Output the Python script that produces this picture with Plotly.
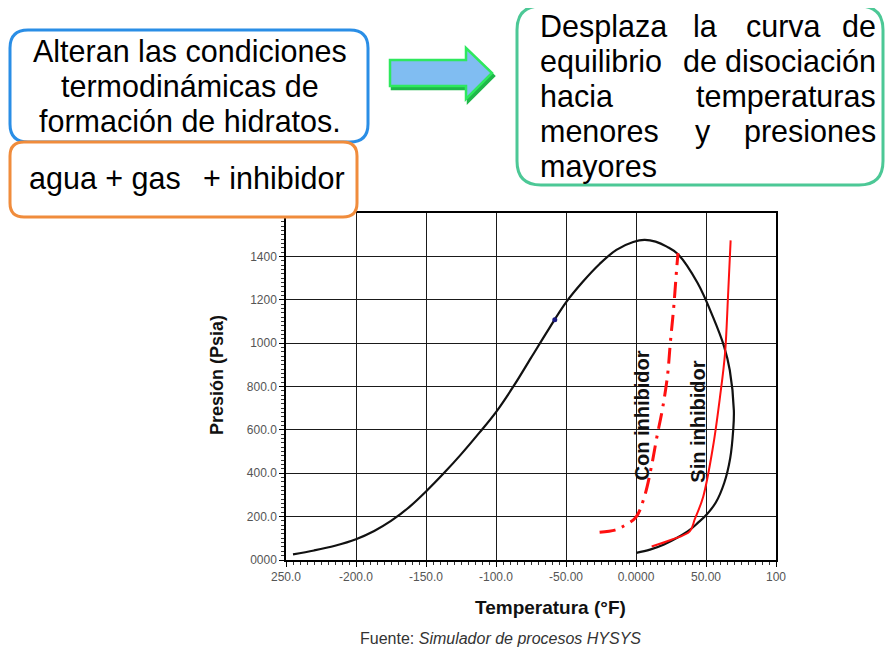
import plotly.graph_objects as go

# ---------------- data ----------------
env_T = [-245, -230, -215, -200, -187, -175, -162, -150, -137, -125, -112, -100, -87, -75, -62, -50,
         -38, -26, -14, -2, 6, 14, 22, 30, 44, 54.9, 63, 67, 69.9, 69.4,
         67.3, 63, 57, 50.5, 44, 38.6, 30, 20, 10, 0.2]
env_P = [26, 44, 66, 96, 134, 180, 244, 316, 402, 487, 586, 682, 806, 932, 1068, 1188,
         1283, 1365, 1430, 1466, 1476, 1468, 1445, 1410, 1277, 1122, 983, 875, 690, 597,
         470, 355, 265, 210, 170, 140, 105, 72, 48, 33]

sin_T = [11.2, 24.8, 38.4, 42, 48, 55, 60, 63.6, 65.7, 67.6]
sin_P = [62, 92, 132, 188, 292, 522, 752, 953, 1213, 1474]

con_T = [-26, -15, -10, 0, 6, 11, 15, 19, 22.5, 24.5, 27, 29, 30]
con_P = [128, 138, 152, 198, 292, 430, 570, 700, 850, 1000, 1170, 1340, 1415]

marker_T = [-58]
marker_P = [1108]

x_tickvals = [-250, -200, -150, -100, -50, 0, 50, 100]
x_ticktext = ["250.0", "-200.0", "-150.0", "-100.0", "-50.00", "0.0000", "50.00", "100"]
y_tickvals = [0, 200, 400, 600, 800, 1000, 1200, 1400]
y_ticktext = ["0000", "200.0", "400.0", "600.0", "800.0", "1000", "1200", "1400"]

# ---------------- layout helpers ----------------
OFF = 8  # page body margin
W, H = 878, 642
L, T = 286 - OFF, 213 - OFF
PW, PH = 490, 347
R = W - L - PW
B = H - T - PH


def px(x):
    return (x - OFF - L) / PW


def py(y):
    return (T + PH - (y - OFF)) / PH


def rrect(x0, y0, x1, y1, r):
    return (f"M {px(x0 + r)} {py(y0)} L {px(x1 - r)} {py(y0)} "
            f"Q {px(x1)} {py(y0)} {px(x1)} {py(y0 + r)} "
            f"L {px(x1)} {py(y1 - r)} Q {px(x1)} {py(y1)} {px(x1 - r)} {py(y1)} "
            f"L {px(x0 + r)} {py(y1)} Q {px(x0)} {py(y1)} {px(x0)} {py(y1 - r)} "
            f"L {px(x0)} {py(y0 + r)} Q {px(x0)} {py(y0)} {px(x0 + r)} {py(y0)} Z")


def arrow_path(dx=0, dy=0):
    p = [(390, 60), (466, 60), (466, 48), (492, 73), (466, 99), (466, 86), (390, 86)]
    return "M " + " L ".join(f"{px(a + dx)} {py(b + dy)}" for a, b in p) + " Z"


FONT = "Liberation Sans, Arial, sans-serif"

fig = go.Figure()

fig.add_trace(go.Scatter(x=env_T, y=env_P, mode="lines", line=dict(color="#111111", width=2.2, shape="spline"),
                         hoverinfo="skip", showlegend=False))
fig.add_trace(go.Scatter(x=sin_T, y=sin_P, mode="lines", line=dict(color="#ff1010", width=2, shape="spline"),
                         hoverinfo="skip", showlegend=False))
fig.add_trace(go.Scatter(x=con_T, y=con_P, mode="lines",
                         line=dict(color="#ff1010", width=3, dash="16px,7px,3px,7px", shape="spline"),
                         hoverinfo="skip", showlegend=False))
fig.add_trace(go.Scatter(x=marker_T, y=marker_P, mode="markers", marker=dict(color="#1a1a80", size=5),
                         hoverinfo="skip", showlegend=False))

shapes = [
    dict(type="path", xref="paper", yref="paper", path=rrect(10, 30, 368, 142, 18),
         line=dict(color="#2a8ee6", width=3), fillcolor="white", layer="above"),
    dict(type="path", xref="paper", yref="paper", path=rrect(10, 142, 357, 217, 14),
         line=dict(color="#f08c3c", width=3), fillcolor="white", layer="above"),
    dict(type="path", xref="paper", yref="paper", path=rrect(517, 6, 883, 185, 24),
         line=dict(color="#4cc896", width=3), fillcolor="white", layer="above"),
    dict(type="path", xref="paper", yref="paper", path=arrow_path(2, 3),
         line=dict(color="#1fb84a", width=2.5), fillcolor="#1fb84a", layer="above"),
    dict(type="path", xref="paper", yref="paper", path=arrow_path(),
         line=dict(color="#2ee85e", width=2.5), fillcolor="#80bdf2", layer="above"),
]

ann = []


def text(x, y, s, size, anchor="center", color="black", bold=False, angle=0):
    ann.append(dict(x=px(x), y=py(y), xref="paper", yref="paper", text=s, showarrow=False,
                    xanchor=anchor, yanchor="middle", textangle=angle,
                    font=dict(family=FONT, size=size, color=color,
                              weight="bold" if bold else "normal")))


BOX_FS = 30.5
# blue box
text(190, 51, "Alteran las condiciones", BOX_FS)
text(190, 86, "termodinámicas de", BOX_FS)
text(190, 121, "formación de hidratos.", BOX_FS)
# orange box
text(27, 178, "agua + gas", BOX_FS, anchor="left")
text(347, 178, "+ inhibidor", BOX_FS, anchor="right")
# green box (justified words)
green_lines = [
    (26, [("Desplaza", 538, "left"), ("la", 705, "center"), ("curva", 783, "center"), ("de", 878, "right")]),
    (61, [("equilibrio", 538, "left"), ("de", 700, "center"), ("disociación", 878, "right")]),
    (96, [("hacia", 538, "left"), ("temperaturas", 878, "right")]),
    (131, [("menores", 538, "left"), ("y", 703, "center"), ("presiones", 878, "right")]),
    (166, [("mayores", 538, "left")]),
]
for yy, words in green_lines:
    for w, xx, an in words:
        text(xx, yy, w, BOX_FS, anchor=an)

# curve labels
ann.append(dict(x=4.5, y=668, xref="x", yref="y", text="Con inhibidor", textangle=-90, showarrow=False,
                font=dict(family=FONT, size=20, color="#111111", weight="bold")))
ann.append(dict(x=44, y=636, xref="x", yref="y", text="Sin inhibidor", textangle=-90, showarrow=False,
                font=dict(family=FONT, size=20, color="#111111", weight="bold")))

# axis titles & caption
text(550, 607, "Temperatura (°F)", 19, bold=True, color="#111111")
text(217, 375, "Presión (Psia)", 18, bold=True, color="#111111", angle=-90)
text(500, 638, "Fuente: <i>Simulador de procesos HYSYS</i>", 16, color="#333333")

fig.update_layout(
    width=W, height=H, margin=dict(l=L, r=R, t=T, b=B),
    paper_bgcolor="white", plot_bgcolor="white",
    shapes=shapes, annotations=ann, showlegend=False,
    xaxis=dict(range=[-250, 100], tickvals=x_tickvals, ticktext=x_ticktext,
               showline=True, mirror=True, linecolor="black", linewidth=1.5,
               showgrid=True, gridcolor="#1a1a1a", gridwidth=1.3, zeroline=False,
               ticks="outside", ticklen=5, tickcolor="black",
               tickfont=dict(family=FONT, size=12, color="#555555"),
               minor=dict(dtick=5, ticks="outside", ticklen=3, tickcolor="#333333", showgrid=False)),
    yaxis=dict(range=[0, 1600], tickvals=y_tickvals, ticktext=y_ticktext,
               showline=True, mirror=True, linecolor="black", linewidth=1.5,
               showgrid=True, gridcolor="#1a1a1a", gridwidth=1.3, zeroline=False,
               ticks="outside", ticklen=5, tickcolor="black",
               tickfont=dict(family=FONT, size=12, color="#555555"),
               minor=dict(dtick=20, ticks="outside", ticklen=3, tickcolor="#333333", showgrid=False)),
)

fig.write_html("out.html")
